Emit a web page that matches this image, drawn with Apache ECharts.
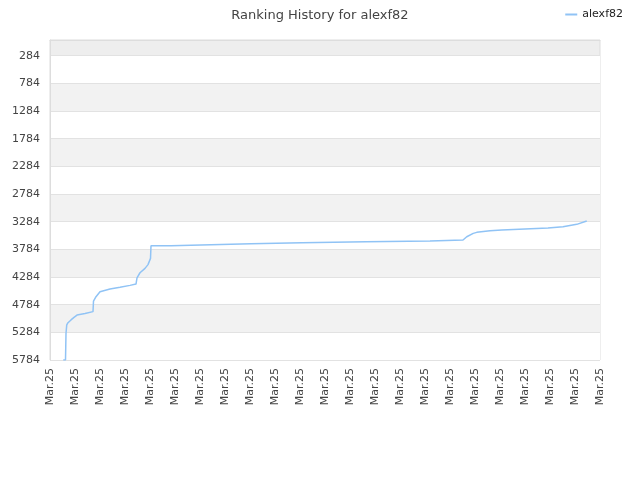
<!DOCTYPE html>
<html><head><meta charset="utf-8">
<script src="https://cdn.jsdelivr.net/npm/echarts@6/dist/echarts.min.js"></script>
<style>html,body{margin:0;padding:0;background:#fff}#c{width:640px;height:480px}</style>
</head><body><div id="c"></div>
<script>
var seriesName = 'alexf82';
var xLabels = ['Mar.25','Mar.25','Mar.25','Mar.25','Mar.25','Mar.25','Mar.25','Mar.25','Mar.25','Mar.25','Mar.25','Mar.25','Mar.25','Mar.25','Mar.25','Mar.25','Mar.25','Mar.25','Mar.25','Mar.25','Mar.25','Mar.25','Mar.25'];
var yTicks = [284,784,1284,1784,2284,2784,3284,3784,4284,4784,5284,5784];
var dayPos = [0.53,0.62,0.64,0.67,0.72,0.84,0.96,1.08,1.4,1.72,1.74,1.84,2.0,2.4,2.8,3.2,3.44,3.48,3.6,3.8,3.92,4.02,4.04,4.84,4.86,6.44,6.46,8.04,8.06,10.08,10.1,12.64,12.66,15.2,15.22,16.52,16.67,16.93,17.07,17.6,18.07,19.0,19.92,20.52,21.07,21.47];
var ranks  = [5784,5784,5300,5150,5110,5060,5014,4972,4945,4910,4719,4640,4550,4502,4470,4435,4411,4300,4207,4128,4060,3947,3719,3719,3701,3701,3683,3683,3665,3665,3647,3647,3634,3634,3615,3615,3556,3495,3477,3448,3435,3417,3400,3376,3332,3272];

var data = dayPos.map(function(x,i){return [x, ranks[i]];});
var chart = echarts.init(document.getElementById('c'));
chart.setOption({
  animation:false,
  title:{text:'Ranking History for alexf82',left:'center',top:4,textStyle:{fontSize:13,fontWeight:'normal',color:'#444',fontFamily:'DejaVu Sans'}},
  legend:{data:[seriesName],right:12,top:4,itemWidth:12,itemHeight:2,icon:'rect',textStyle:{fontSize:11,color:'#222',fontFamily:'DejaVu Sans'}},
  grid:{left:50,right:40,top:40,bottom:120,show:true,backgroundColor:'#eeeeee',borderColor:'#dddddd',borderWidth:1},
  xAxis:{type:'value',min:0,max:xLabels.length-1,interval:1,
    axisLine:{show:true,lineStyle:{color:'#dddddd'}},axisTick:{show:false},
    splitLine:{show:false},
    axisLabel:{rotate:90,fontSize:11,color:'#444',fontFamily:'DejaVu Sans',margin:8,
      formatter:function(v){return xLabels[Math.round(v)];}}},
  yAxis:{type:'value',inverse:true,min:0,max:5784,
    axisLine:{show:true,lineStyle:{color:'#dddddd'}},
    axisTick:{show:false,customValues:yTicks},
    axisLabel:{customValues:yTicks,fontSize:11,color:'#444',fontFamily:'DejaVu Sans',margin:10,
      formatter:function(v){return String(v);}},
    splitLine:{show:true,lineStyle:{color:'#e2e2e2'}},
    splitArea:{show:true,areaStyle:{color:['#ffffff','#f2f2f2']}}},
  series:[{name:seriesName,type:'line',data:data,showSymbol:false,symbol:'none',
    lineStyle:{color:'#90c3f5',width:1.5},itemStyle:{color:'#90c3f5'}}]
});
</script></body></html>
